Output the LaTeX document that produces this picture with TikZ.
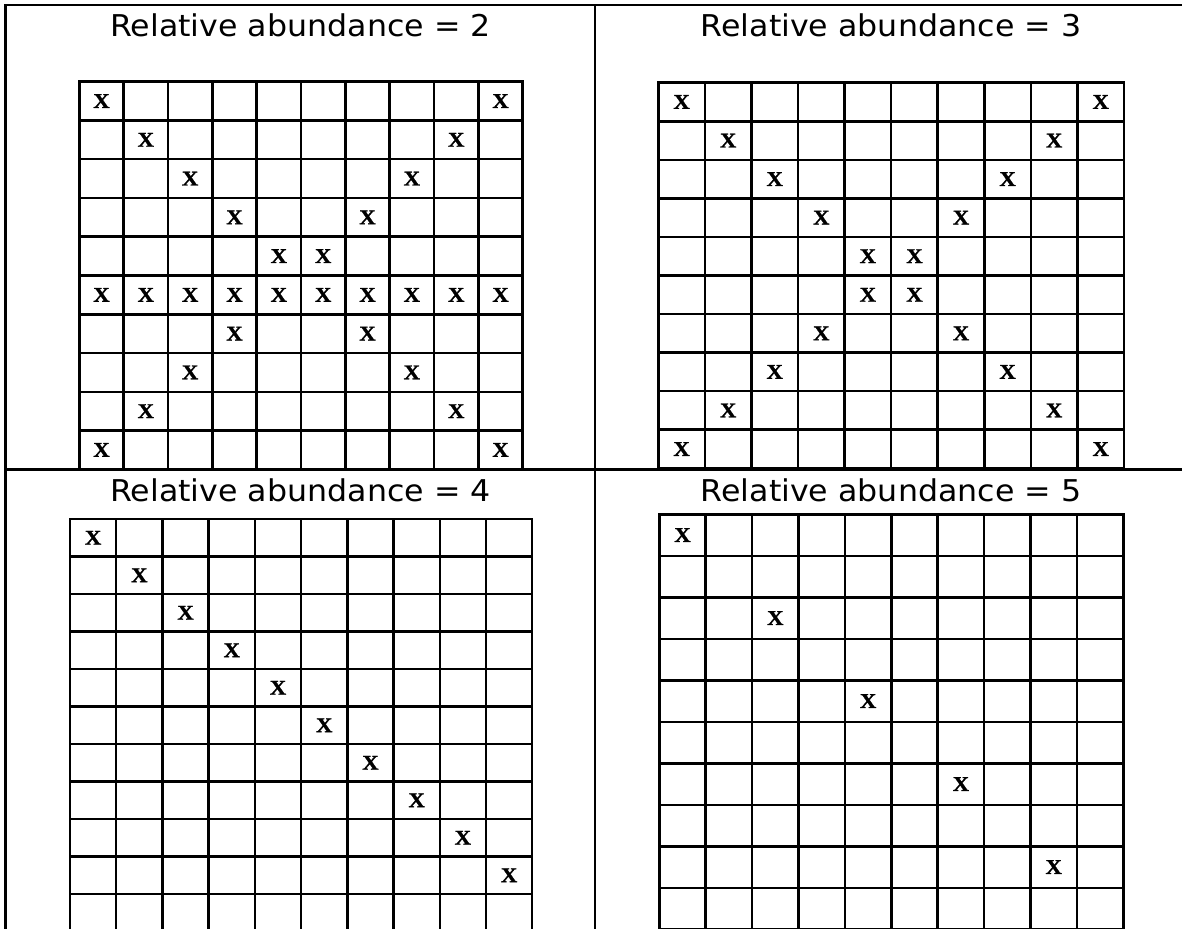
\documentclass[tikz,border=0pt]{standalone}
\usepackage{fontspec}
\usepackage{graphicx}
\newfontfamily\titlefont{DejaVu Sans}
\newfontfamily\xfont[FakeBold=1.2]{Liberation Serif Bold}
\tikzset{
  frameline/.style={line width=2.2pt, line cap=rect},
  gridline/.style={line width=2.5pt, line cap=rect},
  titlelabel/.style={inner sep=0pt, anchor=base, font=\titlefont\fontsize{30}{32}\selectfont},
  xmark/.style={inner sep=0pt, font=\xfont\fontsize{21}{22}\selectfont},
}
% #1 left, #2 top, #3 cell width, #4 row height, #5 number of rows
\newcommand\mygrid[5]{%
  \foreach \i in {0,...,10}{\draw[gridline] ({#1+\i*#3},#2) -- ({#1+\i*#3},{#2+#5*#4});}
  \foreach \j in {0,...,#5}{\draw[gridline] (#1,{#2+\j*#4}) -- ({#1+10*#3},{#2+\j*#4});}
}
% #1 left, #2 top, #3 cell width, #4 row height, #5 name, #6 list row/col
\newcommand\mymarks[6]{%
  \foreach \r/\c in {#6}{\node[xmark] (#5-\r-\c) at ({#1+(\c+0.5)*#3},{#2+(\r+0.5)*#4}) {\scalebox{1.08}[1]{X}};}
}
\begin{document}
\begin{tikzpicture}[x=1pt,y=-1pt]
\useasboundingbox (0,0) rectangle (1182,928);
\clip (0,0) rectangle (1182,928);
\fill[white] (0,0) rectangle (1182,928);
% outer frame and dividers
\draw[frameline] (5.5,940) -- (5.5,5) -- (1190,5);
\draw[frameline] (595,5) -- (595,940);
\draw[frameline] (5.5,469.5) -- (1190,469.5);
% titles
\node[titlelabel] (t2) at (300.5,36.7) {\scalebox{1.055}[1]{Relative abundance = 2}};
\node[titlelabel] (t3) at (891,36.7) {\scalebox{1.055}[1]{Relative abundance = 3}};
\node[titlelabel] (t4) at (300.5,501.7) {\scalebox{1.055}[1]{Relative abundance = 4}};
\node[titlelabel] (t5) at (891,501.7) {\scalebox{1.055}[1]{Relative abundance = 5}};
% grid 1
\mygrid{79.3}{81.7}{44.34}{38.76}{10}
\mymarks{79.3}{81.7}{44.34}{38.76}{ga}{0/0,0/9,1/1,1/8,2/2,2/7,3/3,3/6,4/4,4/5,5/0,5/1,5/2,5/3,5/4,5/5,5/6,5/7,5/8,5/9,6/3,6/6,7/2,7/7,8/1,8/8,9/0,9/9}
% grid 2
\mygrid{658.3}{82.7}{46.57}{38.56}{10}
\mymarks{658.3}{82.7}{46.57}{38.56}{gb}{0/0,0/9,1/1,1/8,2/2,2/7,3/3,3/6,4/4,4/5,5/4,5/5,6/3,6/6,7/2,7/7,8/1,8/8,9/0,9/9}
% grid 3
\mygrid{70}{519}{46.22}{37.5}{11}
\mymarks{70}{519}{46.22}{37.5}{gc}{0/0,1/1,2/2,3/3,4/4,5/5,6/6,7/7,8/8,9/9}
% grid 4
\mygrid{659.3}{514.3}{46.4}{41.5}{10}
\mymarks{659.3}{514.3}{46.4}{41.5}{gd}{0/0,2/2,4/4,6/6,8/8}
\end{tikzpicture}
\end{document}
